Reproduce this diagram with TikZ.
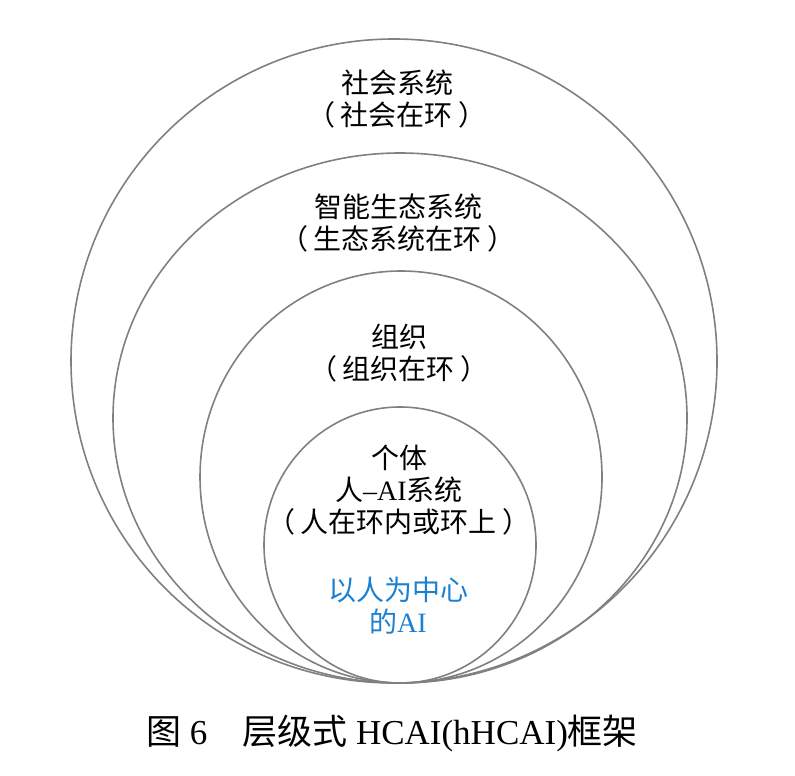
\documentclass[tikz,border=0pt]{standalone}
\usepackage{fontspec}
\setmainfont{Liberation Serif}
\newfontfamily\zh{Noto Sans CJK SC}
\usepackage{xcolor}
\definecolor{ringgray}{RGB}{128,128,128}
\definecolor{hcaiblue}{RGB}{28,128,208}
\newcommand\inloop[1]{（\kern.2em#1\kern.2em）}

\begin{document}
\begin{tikzpicture}[x=0.5pt, y=-0.5pt,
	ring/.style={draw=ringgray, line width=0.8pt},
	lbl/.style={align=center, font=\zh\fontsize{14}{16}\selectfont}]
		\useasboundingbox (0,0) rectangle (795,775);
		% кольца
		\draw [ring] (394,361) ellipse [x radius=323, y radius=322];
		\draw [ring] (400,418) ellipse [x radius=287, y radius=265];
		\draw [ring] (401,477) ellipse [x radius=201, y radius=206];
		\draw [ring] (400,545) ellipse [x radius=136, y radius=138];
		% подписи
		\node [lbl] (society) at (397,99) {社会系统\\\inloop{社会在环}};
		\node [lbl] (ecosys) at (398,223) {智能生态系统\\\inloop{生态系统在环}};
		\node [lbl] (org) at (399,353) {组织\\\inloop{组织在环}};
		\node [lbl] (indiv) at (399,490) {个体\\人{\rmfamily –AI}系统\\\inloop{人在环内或环上}};
		\node [lbl, text=hcaiblue] (hcai) at (398,606) {以人为中心\\的{\rmfamily AI}};
		% заголовок
		\node [lbl, font=\zh\fontsize{17.5}{20}\selectfont] (caption) at (392,733)
			{图{\rmfamily\ 6}\quad 层级式{\rmfamily\ HCAI(hHCAI)}框架};
\end{tikzpicture}
\end{document}
